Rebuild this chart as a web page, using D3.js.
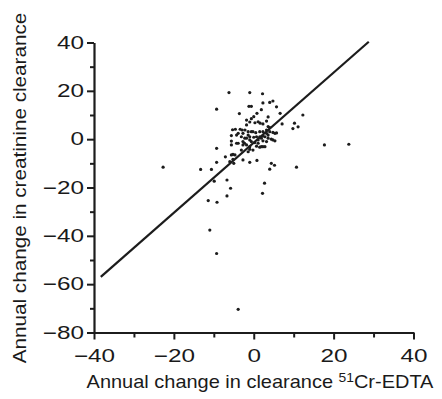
<!DOCTYPE html>
<html>
<head>
<meta charset="utf-8">
<script src="https://cdn.jsdelivr.net/npm/d3@7"></script>
<style>
  body { margin: 0; background: #fff; }
  text { font-family: "Liberation Sans", Arial, sans-serif; fill: #1a1a1a; }
</style>
</head>
<body>
<svg id="chart"></svg>
<script>
// annual change in 51Cr-EDTA clearance (x) vs creatinine clearance (y)
const edta = [
  -6.2, -1, 2.2, -9.3, -1.2, -0.6, -3.6, 2.3, 4, 4.8, 5.7, 1.9, 0.8, 0, 3.6, 6.6, 12.3,
  -1.8, -0.6, -1, 0.3, 1.1, 1.6, 2.3, 3.2, 3.6, 4, 7.1, 10.2, 9.8, 11.1, -1.8,
  -5.3, -4.6, -3.4, -2.9, -2.2, -1.4, -0.6, -3.9, -2.7, -5.6, -4.3, -3.1, -1.4, -1,
  -1.8, -2.25, 0, -0.2, 0.5, 1.5, 2.3, 3.2, 3.2, 4, 4.8, 5.3, 5.7, 0.7, 1.5, 2.3, 2.8,
  1.9, 3.6, 3.6, 1.1, -1, 4.8, 5.3, 4.4, -5.6, -3.9, -2.7, -2.3, -4.3, -0.6, 0.25, 1.1,
  2.3, 3.2, -1.8, -2.7, -5.6, -1, 0.7, 1.5, 2.3, 2.8, 1.9, -0.2, -3.1, -1.4, -1,
  -5.2, -4.7, -5.6, -9.3, -7.1, -5.2, -1, 0.8, -2.7, -9.3, -6, -5, 4.4, 5.2, 4,
  -22.7, -13.3, -10.6, 10.7, 17.7, 23.8, -9.9, -6.7, -5.8, 2.7, 2.2, -6.7, -11.4, -9.2,
  -11, -9.3, -3.9
];
const creat = [
  19.3, 19.3, 18.8, 12.4, 13.6, 13.6, 10.6, 15, 15.2, 15.8, 13.4, 12.2, 10.7, 9.3, 9.2, 10.7, 10,
  7.9, 8.5, 7.1, 6.8, 7.2, 6.6, 6.3, 7.5, 5.2, 4.8, 6.3, 6.6, 4.4, 5.1, 5.9,
  3.9, 4.1, 4.1, 3.8, 3.8, 3.1, 3.1, 2.4, 2.4, 1.5, 1.7, 1.0, 1.7, 1.0,
  0.4, 0.4, 0.8, 3.1, 2.7, 3.1, 3.1, 2.4, 3.8, 3.1, 2.8, 2.4, 2.6, 1.0, 1.0, 1.3, 1.0,
  0.4, 0.4, 1.7, -0.3, -0.3, -0.3, -0.7, 0, -0.8, -1.7, -1.0, -1.7, -1.7, -1.0, -1.4, -1.7,
  -0.7, -1, -2.4, -2.4, -2.4, -3.1, -2.9, -3.3, -3.1, -3.1, -3.1, -4.5, -4.5, -5.2, -4.2,
  -6.3, -6.5, -6.5, -3.8, -7.3, -8.3, -9.6, -8.8, -8.6, -9.6, -9.3, -10, -10, -10.8, -12.4,
  -11.6, -12.5, -12.5, -11.6, -2.4, -2.1, -17.4, -16.9, -20.3, -18.2, -22.4, -23.5, -25.4, -26.1,
  -37.6, -47.3, -70.4
];
// regression line end points
const lineX = [-38.3, 28.8];
const lineY = [-57, 40.3];

const xMajor = [-40, -20, 0, 20, 40];
const xMinor = [-30, -10, 10, 30];
const yMajor = [40, 20, 0, -20, -40, -60, -80];
const yMinor = [30, 10, -10, -30, -50, -70];

const width = 442, height = 399;
const svg = d3.select('#chart').attr('width', width).attr('height', height);

const x = d3.scaleLinear().domain([-40, 40]).range([94, 413.5]);
const y = d3.scaleLinear().domain([-80, 40]).range([332.5, 42.5]);

const ink = '#1c1c1c';
const stretch = 1.35; // the printed figure uses a wide face

// minor ticks first, then major axis with labels
svg.append('g')
    .attr('transform', 'translate(0,' + y(-80) + ')')
    .call(d3.axisBottom(x).tickValues(xMinor).tickSize(5).tickFormat(''))
    .call(g => g.select('.domain').remove());
svg.append('g')
    .attr('transform', 'translate(' + x(-40) + ',0)')
    .call(d3.axisLeft(y).tickValues(yMinor).tickSize(4).tickFormat(''))
    .call(g => g.select('.domain').remove());

const xAxis = svg.append('g')
    .attr('transform', 'translate(0,' + y(-80) + ')')
    .call(d3.axisBottom(x).tickValues(xMajor).tickSize(7).tickSizeOuter(0).tickPadding(3));
const yAxis = svg.append('g')
    .attr('transform', 'translate(' + x(-40) + ',0)')
    .call(d3.axisLeft(y).tickValues(yMajor).tickSize(7).tickSizeOuter(0).tickPadding(6));

svg.selectAll('.tick line').attr('stroke', ink).attr('stroke-width', 2);
svg.selectAll('.domain').attr('stroke', ink).attr('stroke-width', 2.2);
svg.selectAll('.tick text')
    .style('font-family', '"Liberation Sans", Arial, sans-serif')
    .attr('font-size', 18)
    .attr('fill', ink)
    .attr('transform', 'scale(' + stretch + ',1)');
xAxis.selectAll('.tick text').attr('y', 17).attr('dy', '0.71em');
yAxis.selectAll('.tick text').attr('x', -10 / stretch);

// regression line
svg.append('line')
    .attr('x1', x(lineX[0])).attr('y1', y(lineY[0]))
    .attr('x2', x(lineX[1])).attr('y2', y(lineY[1]))
    .attr('stroke', ink)
    .attr('stroke-width', 2.2);

// points
svg.append('g')
    .selectAll('circle')
    .data(edta.map((d, i) => [d, creat[i]]))
    .enter().append('circle')
    .attr('cx', d => x(d[0]))
    .attr('cy', d => y(d[1]))
    .attr('r', 1.6)
    .attr('fill', ink);

// axis titles
const xt = svg.append('text')
    .attr('transform', 'translate(260,388) scale(1.11,1)')
    .attr('text-anchor', 'middle')
    .attr('font-size', 18);
xt.append('tspan').text('Annual change in clearance ');
xt.append('tspan').attr('font-size', 12.5).attr('dy', -6).text('51');
xt.append('tspan').attr('dy', 6).text('Cr-EDTA');

svg.append('text')
    .attr('transform', 'translate(26,188) rotate(-90) scale(1.15,1)')
    .attr('text-anchor', 'middle')
    .attr('font-size', 18)
    .text('Annual change in creatinine clearance');
</script>
</body>
</html>
